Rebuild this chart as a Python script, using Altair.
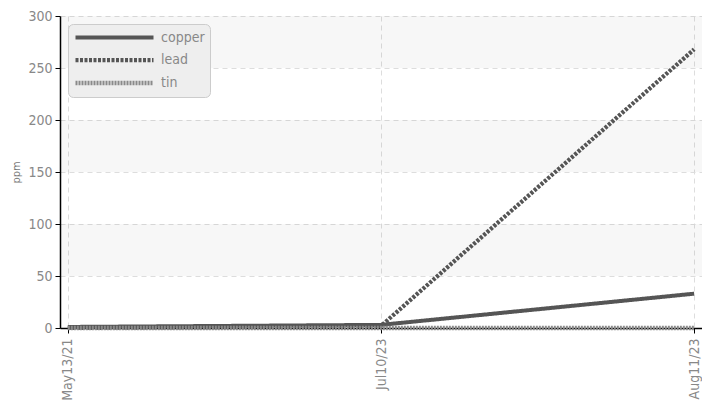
import altair as alt
import pandas as pd

dates = ["May13/21", "Jul10/23", "Aug11/23"]
series = ["copper", "lead", "tin"]
copper = [1, 3, 33]
lead = [0, 2, 268]
tin = [0, 0, 0]
band_lo = [50, 150, 250]
band_hi = [100, 200, 300]

rows = []
for name, vals in zip(series, [copper, lead, tin]):
    for d, v in zip(dates, vals):
        rows.append({"date": d, "metal": name, "ppm": v})
df = pd.DataFrame(rows)
bands = pd.DataFrame({"lo": band_lo, "hi": band_hi})

FONT = "DejaVu Sans Condensed, Roboto, sans-serif"
xscale = alt.Scale(type="point", domain=dates, padding=0.025)
yscale = alt.Scale(domain=[0, 300], nice=False)

band_layer = alt.Chart(bands).mark_rect(color="#000000", opacity=0.03).encode(
    y=alt.Y("lo:Q", scale=yscale),
    y2="hi:Q",
    x=alt.value(0),
    x2=alt.value("width"),
)

lines = alt.Chart(df).mark_line().encode(
    x=alt.X("date:N", scale=xscale, sort=dates,
            axis=alt.Axis(title=None, labelAngle=-90, labelFontSize=14, labelColor="#888888",
                          labelPadding=5, grid=True, gridDash=[5, 4], gridColor="#dddddd",
                          domainColor="#000000", domainWidth=1.5, tickColor="#000000", tickSize=5)),
    y=alt.Y("ppm:Q", scale=yscale,
            axis=alt.Axis(title="ppm", values=[0, 50, 100, 150, 200, 250, 300], labelFontSize=14,
                          labelColor="#888888", titleFontSize=11, titleColor="#777777",
                          titleFontWeight="normal", titlePadding=6, grid=True, gridDash=[5, 4],
                          gridColor="#dddddd", domainColor="#000000", domainWidth=1.5,
                          tickColor="#000000", tickSize=5, labelPadding=3)),
    color=alt.Color("metal:N", scale=alt.Scale(domain=series, range=["#555555", "#555555", "#8a8a8a"]),
                    legend=alt.Legend(title=None)),
    strokeDash=alt.StrokeDash("metal:N", scale=alt.Scale(domain=series, range=[[1, 0], [3, 1.5], [2, 1]]),
                              legend=alt.Legend(title=None)),
    strokeWidth=alt.StrokeWidth("metal:N", scale=alt.Scale(domain=series, range=[4, 4.5, 3]),
                                legend=alt.Legend(title=None)),
)

chart = alt.layer(band_layer, lines).properties(
    width=642, height=312,
    autosize=alt.AutoSizeParams(type="none"),
    padding={"left": 52, "top": 8, "right": 0, "bottom": 77},
).configure_view(stroke=None).configure_axis(
    labelFont=FONT, titleFont=FONT
).configure_legend(
    orient="none", legendX=8, legendY=8, fillColor="#eeeeee", strokeColor="#cccccc",
    cornerRadius=5, padding=5, symbolType="M-1,0H11", symbolSize=169, labelFont=FONT,
    labelFontSize=14, labelColor="#888888", labelOffset=70, rowPadding=5,
)

chart.save("out.html", embed_options={"renderer": "svg", "actions": False})
